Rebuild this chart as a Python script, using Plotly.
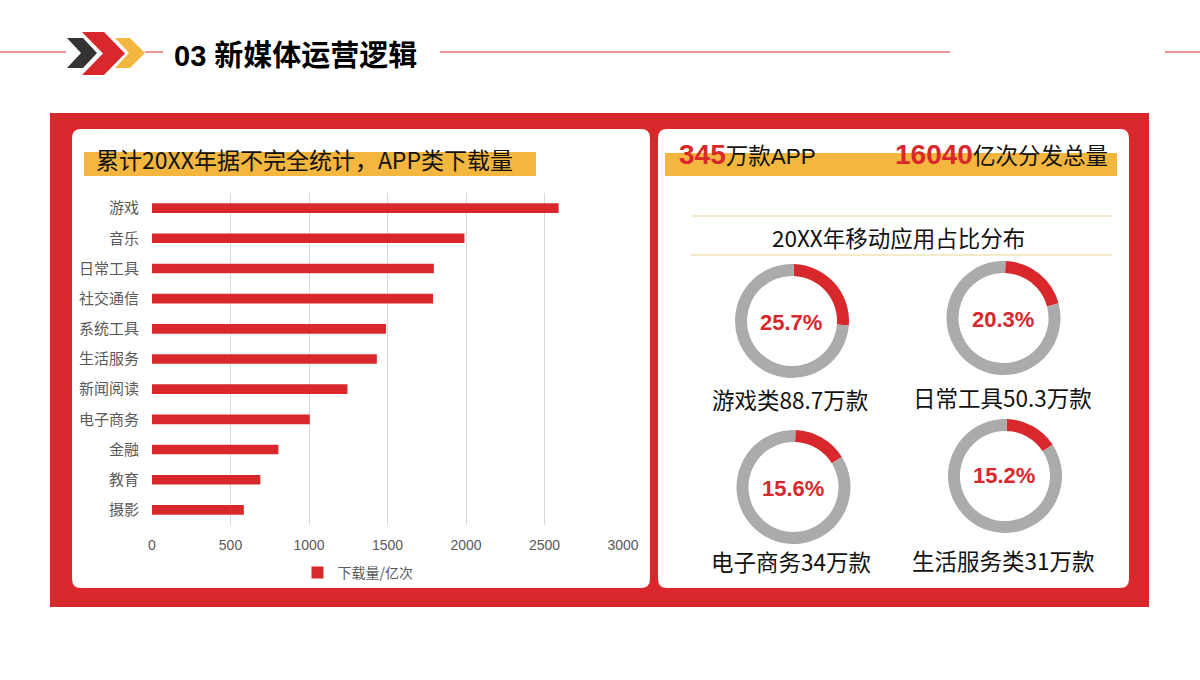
import plotly.graph_objects as go

# ---------------- data ----------------
categories = ['游戏', '音乐', '日常工具', '社交通信', '系统工具', '生活服务',
              '新闻阅读', '电子商务', '金融', '教育', '摄影']
downloads = [2590, 1990, 1795, 1790, 1490, 1432, 1245, 1005, 805, 690, 585]
x_ticks = [0, 500, 1000, 1500, 2000, 2500, 3000]
series_name = '下载量/亿次'

share_labels = ['游戏类88.7万款', '日常工具50.3万款', '电子商务34万款', '生活服务类31万款']
share_pct = [25.7, 20.3, 15.6, 15.2]

# ---------------- style ----------------
W, H = 1200, 680
RED = '#D8282C'
YELLOW = '#F3B63F'
GRAY_RING = '#ABABAB'
GOLD_LINE = '#E9D592'
CJK = 'Noto Sans CJK SC'
LAT = 'Liberation Sans, Noto Sans CJK SC'


def px(x):
    return x / W


def py(y):
    return 1 - y / H


shapes = []


def rect(x0, y0, x1, y1, color, layer='below'):
    shapes.append(dict(type='rect', xref='paper', yref='paper',
                       x0=px(x0), x1=px(x1), y0=py(y0), y1=py(y1),
                       fillcolor=color, line=dict(width=0), layer=layer))


def rrect(x0, y0, x1, y1, r, color):
    pts = [('M', x0 + r, y0), ('L', x1 - r, y0), ('Q', x1, y0, x1, y0 + r),
           ('L', x1, y1 - r), ('Q', x1, y1, x1 - r, y1), ('L', x0 + r, y1),
           ('Q', x0, y1, x0, y1 - r), ('L', x0, y0 + r), ('Q', x0, y0, x0 + r, y0)]
    d = ''
    for p in pts:
        cmd = p[0]
        coords = p[1:]
        s = ' '.join(f'{px(coords[i]):.5f},{py(coords[i + 1]):.5f}' for i in range(0, len(coords), 2))
        d += f'{cmd}{s} '
    d += 'Z'
    shapes.append(dict(type='path', xref='paper', yref='paper', path=d,
                       fillcolor=color, line=dict(width=0), layer='below'))


def poly(points, color):
    d = 'M' + ' L'.join(f'{px(a):.5f},{py(b):.5f}' for a, b in points) + ' Z'
    shapes.append(dict(type='path', xref='paper', yref='paper', path=d,
                       fillcolor=color, line=dict(width=0), layer='above'))


def hline(x0, x1, y, color, width=1):
    shapes.append(dict(type='line', xref='paper', yref='paper',
                       x0=px(x0), x1=px(x1), y0=py(y), y1=py(y),
                       line=dict(color=color, width=width), layer='below'))


# header
hline(0, 66, 52, RED, 1)
hline(145, 163, 52, RED, 1)
hline(440, 950, 52, RED, 1)
hline(1165, 1200, 52, RED, 1)
poly([(67, 38), (83, 38), (97, 53), (83, 68), (67, 68), (81, 53)], '#333333')
poly([(115, 38), (130, 38), (145, 53), (130, 68), (115, 68), (129, 53)], YELLOW)
poly([(82, 32), (104, 32), (125, 53.5), (104, 75), (82, 75), (103, 53.5)], RED)

# frame and panels
rect(50, 113, 1149, 607, RED)
rrect(72, 129, 650, 588, 9, 'white')
rrect(658, 129, 1129, 588, 9, 'white')

# yellow title bands
rect(84, 152, 536, 176, YELLOW)
rect(665, 153, 1117, 176, YELLOW)

# gold lines around donut title
hline(691, 1112, 216, GOLD_LINE, 1.2)
hline(691, 1112, 255, GOLD_LINE, 1.2)

fig = go.Figure()

fig.add_trace(go.Bar(
    y=categories, x=downloads, orientation='h',
    marker=dict(color=RED, line=dict(width=0)),
    width=0.32, name=series_name, showlegend=True,
    xaxis='x', yaxis='y'
))

# donuts
centers = [(792, 321), (1003.5, 318), (793.5, 487), (1005, 476)]
R = 57
for (cx, cy), v in zip(centers, share_pct):
    fig.add_trace(go.Pie(
        values=[v, 100 - v], sort=False, direction='clockwise', rotation=2,
        hole=0.79, marker=dict(colors=[RED, GRAY_RING], line=dict(width=0)),
        textinfo='none', hoverinfo='skip', showlegend=False,
        domain=dict(x=[px(cx - R), px(cx + R)], y=[py(cy + R), py(cy - R)])
    ))

annotations = []


def ann(x, y, text, size, color='#000000', family=CJK, xanchor='center', bold=False):
    annotations.append(dict(xref='paper', yref='paper', x=px(x), y=py(y),
                            text=(f'<b>{text}</b>' if bold else text),
                            showarrow=False, xanchor=xanchor, yanchor='middle',
                            font=dict(size=size, color=color, family=family)))


ann(172, 56, '03 新媒体运营逻辑', 29, '#000000', 'Liberation Sans, Noto Sans CJK SC', 'left', True)
ann(94, 159, '累计20XX年据不完全统计，APP类下载量', 23, '#111111', CJK, 'left')
ann(677, 155, f'<span style="font-size:28px;color:{RED}"><b>345</b></span>万款APP', 22.5, '#111111', LAT, 'left')
ann(893, 155, f'<span style="font-size:28px;color:{RED}"><b>16040</b></span>亿次分发总量', 22.5, '#111111', LAT, 'left')
ann(898, 237, '20XX年移动应用占比分布', 22.5, '#111111', CJK)

label_pos = [(790, 399), (1002, 397), (791, 561), (1003, 560)]
pct_pos = [(791, 322), (1003, 319), (793, 488), (1004, 476)]
for (lx, ly), lab in zip(label_pos, share_labels):
    ann(lx, ly, lab, 22.5, '#111111', CJK)
for (tx, ty), v in zip(pct_pos, share_pct):
    ann(tx, ty, f'{v}%', 22, RED, 'Liberation Sans', 'center', True)

fig.update_layout(
    width=W, height=H, autosize=False,
    margin=dict(l=0, r=0, t=0, b=0, pad=0, autoexpand=False),
    paper_bgcolor='white', plot_bgcolor='rgba(0,0,0,0)',
    shapes=shapes, annotations=annotations,
    xaxis=dict(domain=[px(152), px(623)], range=[0, 3000], tickvals=x_ticks,
               showgrid=True, gridcolor='#D9D9D9', gridwidth=1, zeroline=False,
               showline=False, ticks='', ticklabelstandoff=10,
               tickfont=dict(size=14, color='#595959', family=LAT)),
    yaxis=dict(domain=[py(525), py(193)], range=[10.5, -0.5], type='category',
               categoryorder='array', categoryarray=categories,
               showgrid=False, zeroline=False, showline=False, ticks='',
               ticklabelstandoff=12,
               tickfont=dict(size=15, color='#595959', family=CJK)),
    legend=dict(orientation='h', x=px(358), y=py(573), xanchor='center', yanchor='middle',
                font=dict(size=14, color='#595959', family=CJK),
                bgcolor='rgba(0,0,0,0)', itemwidth=30),
)

post = ("document.documentElement.style.margin='0';"
        "document.body.style.margin='0';document.body.style.overflow='hidden';"
        "var gd=document.getElementById('{plot_id}');"
        "Plotly.relayout(gd,{width:1200,height:680});")

fig.write_html('out.html', config={'responsive': False, 'displayModeBar': False},
               post_script=post)
